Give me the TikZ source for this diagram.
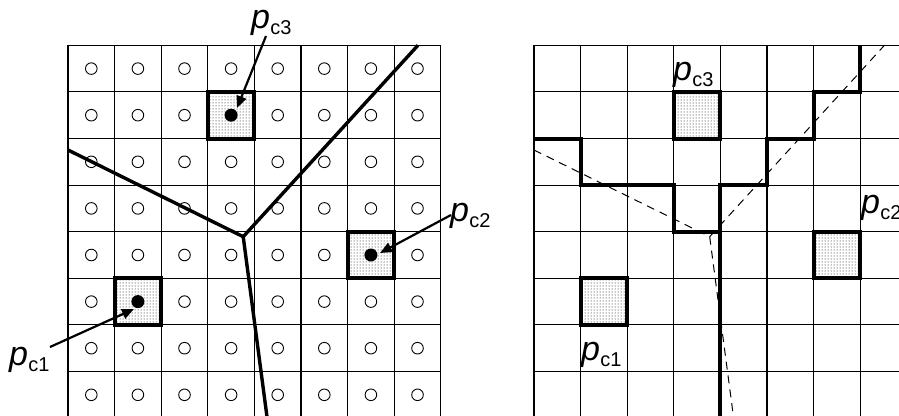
\documentclass[tikz,border=0pt]{standalone}
\usepackage{fontspec}
\setmainfont{Liberation Sans}
\usetikzlibrary{arrows.meta,patterns}
\newcommand\plab[1]{{\fontsize{34pt}{34pt}\selectfont\itshape p}\kern0.3pt\raisebox{-6.5pt}{\fontsize{20pt}{20pt}\selectfont #1}}
\tikzset{
  gridline/.style={line width=1.1pt},
  voro/.style={line width=3.4pt, line join=round},
  vorodash/.style={line width=1pt, dash pattern=on 8pt off 6pt},
  stair/.style={line width=4pt, line join=miter},
  cellbox/.style={line width=4pt},
  cellfill/.style={pattern=dots, pattern color=black},
  ring/.style={line width=0.9pt},
  site/.style={circle, fill=black, minimum size=13pt, inner sep=0pt},
  lab/.style={anchor=base west, inner sep=0pt},
  pointer/.style={line width=2.2pt, -{Triangle[length=12pt,width=10pt]}},
}
\begin{document}
\begin{tikzpicture}[x=1pt,y=-1pt]
\useasboundingbox (0,0) rectangle (899,415);
\fill[white] (0,0) rectangle (899,415);
\clip (0,0) rectangle (899,415);
% ---------------- left grid ----------------
\begin{scope}[shift={(68pt,-45.3pt)},x=46.6pt,y=-46.6pt]
  \foreach \k in {0,...,8} {
    \draw[gridline] (\k,0) -- (\k,8.6);
    \draw[gridline] (0,\k) -- (8,\k);
  }
  \foreach \i in {0,...,7} \foreach \j in {0,...,7} {
    \draw[ring] (\i+0.5,\j+0.5) circle[radius=5.8pt];
  }
  \foreach \i/\j in {3/1,6/4,1/5} {
    \fill[white] (\i,\j) rectangle (\i+1,\j+1);
    \fill[cellfill] (\i,\j) rectangle (\i+1,\j+1);
    \draw[cellbox] (\i,\j) rectangle (\i+1,\j+1);
  }
  \node[site] (s3) at (3.5,1.5) {};
  \node[site] (s2) at (6.5,4.5) {};
  \node[site] (s1) at (1.5,5.5) {};
  \coordinate (v) at (3.76,4.107);
  \coordinate (e1) at (0,2.247);
  \coordinate (e2) at (7.51,0);
  \coordinate (e3) at (4.34,8.5);
  \draw[voro] (e1) -- (v) -- (e2);
  \draw[voro] (v) -- (e3);
\end{scope}
% ---------------- right grid ----------------
\begin{scope}[shift={(534pt,-45.3pt)},x=46.6pt,y=-46.6pt]
  \foreach \k in {0,...,8} {
    \draw[gridline] (\k,0) -- (\k,8.6);
    \draw[gridline] (0,\k) -- (8,\k);
  }
  \foreach \i/\j in {3/1,6/4,1/5} {
    \fill[cellfill] (\i,\j) rectangle (\i+1,\j+1);
    \draw[cellbox] (\i,\j) rectangle (\i+1,\j+1);
  }
  \coordinate (w) at (3.77,4.107);
  \coordinate (f1) at (0,2.247);
  \coordinate (f2) at (7.52,0);
  \coordinate (f3) at (4.35,8.5);
  \draw[vorodash] (f1) -- (w) -- (f2);
  \draw[vorodash] (w) -- (f3);
  \draw[stair] (0,2) -- (1,2) -- (1,3) -- (3,3) -- (3,4) -- (4,4) -- (4,3)
     -- (5,3) -- (5,2) -- (6,2) -- (6,1) -- (7,1) -- (7,0);
  \draw[stair] (4,4) -- (4,8.6);
\end{scope}
% ---------------- labels ----------------
\node[lab] (L3) at (251,28) {\plab{c3}};
\node[lab] (L2) at (450,221) {\plab{c2}};
\node[lab] (L1) at (9,365) {\plab{c1}};
\node[lab] (R3) at (673,80) {\plab{c3}};
\node[lab] (R2) at (861,213) {\plab{c2}};
\node[lab] (R1) at (581,360) {\plab{c1}};
\coordinate (a3s) at (266,36);
\coordinate (a3e) at (237,108);
\coordinate (a2s) at (451,215);
\coordinate (a2e) at (380,253);
\coordinate (a1s) at (50,347);
\coordinate (a1e) at (134,309);
\draw[pointer] (a3s) -- (a3e);
\draw[pointer] (a2s) -- (a2e);
\draw[pointer] (a1s) -- (a1e);
\end{tikzpicture}
\end{document}
